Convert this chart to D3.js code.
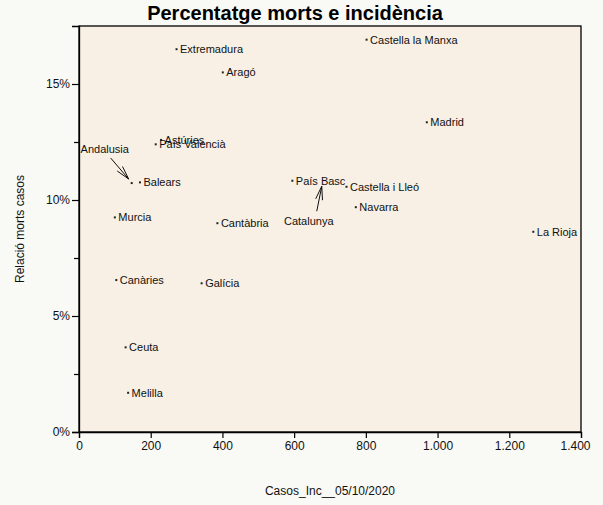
<!DOCTYPE html>
<html>
<head>
<meta charset="utf-8">
<script src="https://cdnjs.cloudflare.com/ajax/libs/d3/7.8.5/d3.min.js"></script>
<style>
  body { margin: 0; background: #f9f9f6; }
  svg { display: block; font-family: "Liberation Sans", Arial, Helvetica, sans-serif; }
</style>
</head>
<body>
<div id="chart"></div>
<script>
// comunitats i valors llegits del grafic
var comunitats = ["Extremadura", "Aragó", "Astúries", "País Valencià", "Andalusia", "Balears",
  "País Basc", "Catalunya", "Castella i Lleó", "Navarra", "Castella la Manxa", "Madrid",
  "La Rioja", "Murcia", "Cantàbria", "Canàries", "Galícia", "Ceuta", "Melilla"];
var casosInc = [272, 401, 229, 214, 147, 170, 595, 677, 746, 772, 802, 970, 1267, 100, 386, 104, 342, 130, 137];
var relacioMorts = [16.5, 15.5, 12.59, 12.4, 10.73, 10.76, 10.83, 10.68, 10.57, 9.69, 16.91, 13.35, 8.63, 9.25, 9.0, 6.55, 6.41, 3.65, 1.69];
var xTicks = [0, 200, 400, 600, 800, 1000, 1200, 1400];
var yTicks = [0, 5, 10, 15];
var yMinorTicks = [2.5, 7.5, 12.5];

var width = 603, height = 505;
var margin = {top: 26, right: 22, bottom: 73, left: 79};
var w = width - margin.left - margin.right,
    h = height - margin.top - margin.bottom;

// etiquetes desplacades amb fletxa
var callouts = {
  "Andalusia": {dx: -27, dy: -34, x1: -21, y1: -25, x2: -3, y2: -4},
  "Catalunya": {dx: -13, dy: 37, x1: -5, y1: 27, x2: 0, y2: 2}
};

var loc = d3.formatLocale({decimal: ",", thousands: ".", grouping: [3], currency: ["", "€"]});
var fmtX = loc.format(",");

var svg = d3.select("#chart").append("svg")
  .attr("width", width).attr("height", height);

svg.append("rect").attr("width", width).attr("height", height).attr("fill", "#f9f9f6");

var g = svg.append("g").attr("transform", "translate(" + margin.left + "," + margin.top + ")");

var x = d3.scaleLinear().domain([0, 1400]).range([0, w]);
var y = d3.scaleLinear().domain([0, 17.5]).range([h, 0]);

g.append("rect").attr("width", w).attr("height", h)
  .attr("fill", "#f8f0e4").attr("stroke", "#000").attr("stroke-width", 1.3);

var xAxis = g.append("g").attr("transform", "translate(0," + h + ")")
  .call(d3.axisBottom(x).tickValues(xTicks).tickFormat(fmtX).tickSize(6).tickPadding(3));
var yAxis = g.append("g")
  .call(d3.axisLeft(y).tickValues(yTicks).tickFormat(function(d) { return d + "%"; }).tickSize(7).tickPadding(2));
g.append("g")
  .call(d3.axisLeft(y).tickValues(yMinorTicks).tickFormat("").tickSize(5))
  .select(".domain").remove();

g.selectAll(".tick line").attr("stroke", "#000").attr("stroke-width", 1.2);
g.selectAll(".domain").attr("stroke", "#000").attr("stroke-width", 1.3);
g.selectAll(".tick text").attr("font-size", 12).attr("fill", "#111")
  .attr("font-family", "'Liberation Sans', Arial, sans-serif");
// l'ultima etiqueta queda dins del marge
xAxis.selectAll(".tick text").filter(function(d) { return d === 1400; }).attr("dx", -6);

var data = comunitats.map(function(n, i) {
  return {name: n, x: casosInc[i], y: relacioMorts[i]};
});

var pts = g.selectAll(".pt").data(data).enter().append("g")
  .attr("class", "pt")
  .attr("transform", function(d) { return "translate(" + x(d.x) + "," + y(d.y) + ")"; });

pts.filter(function(d) { return d.name !== "Catalunya"; })
  .append("rect").attr("x", -1).attr("y", -1).attr("width", 2).attr("height", 2).attr("fill", "#222");

pts.append("text")
  .attr("x", function(d) { return callouts[d.name] ? callouts[d.name].dx : 3.5; })
  .attr("y", function(d) { return callouts[d.name] ? callouts[d.name].dy : 0; })
  .attr("dy", "0.35em")
  .attr("text-anchor", function(d) { return callouts[d.name] ? "middle" : "start"; })
  .attr("font-size", 11).attr("fill", "#111")
  .text(function(d) { return d.name; });

// fletxes
pts.filter(function(d) { return callouts[d.name]; }).each(function(d) {
  var c = callouts[d.name], sel = d3.select(this);
  var ang = Math.atan2(c.y2 - c.y1, c.x2 - c.x1), len = 14, spread = 0.25;
  sel.append("line").attr("x1", c.x1).attr("y1", c.y1).attr("x2", c.x2).attr("y2", c.y2)
    .attr("stroke", "#111").attr("stroke-width", 1);
  [-spread, spread].forEach(function(s) {
    sel.append("line").attr("x1", c.x2).attr("y1", c.y2)
      .attr("x2", c.x2 - len * Math.cos(ang + s)).attr("y2", c.y2 - len * Math.sin(ang + s))
      .attr("stroke", "#111").attr("stroke-width", 1);
  });
});

svg.append("text").attr("x", 295).attr("y", 20).attr("text-anchor", "middle")
  .attr("font-size", 20).attr("font-weight", "bold").attr("fill", "#000")
  .text("Percentatge morts e incidència");

svg.append("text").attr("x", margin.left + w / 2).attr("y", 495).attr("text-anchor", "middle")
  .attr("font-size", 12).attr("fill", "#111")
  .text("Casos_Inc__05/10/2020");

svg.append("text").attr("transform", "translate(24," + (margin.top + h / 2) + ") rotate(-90)")
  .attr("text-anchor", "middle").attr("font-size", 12).attr("fill", "#111")
  .text("Relació morts casos");
</script>
</body>
</html>
